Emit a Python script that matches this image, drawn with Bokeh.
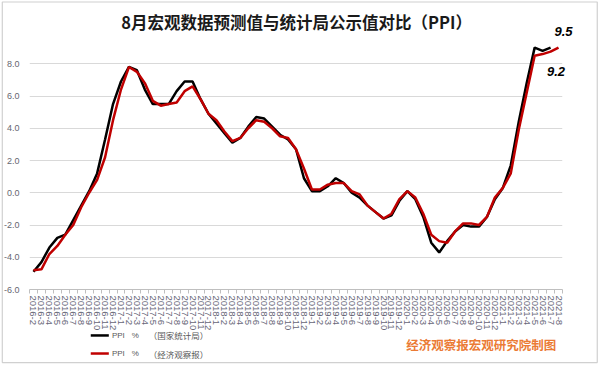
from bokeh.plotting import figure
from bokeh.models import FixedTicker, NumeralTickFormatter
from bokeh.core.properties import value
from bokeh.embed import file_html
from bokeh.resources import INLINE

# ---- data ----
months = [
    "2016-2", "2016-3", "2016-4", "2016-5", "2016-6", "2016-7", "2016-8", "2016-9", "2016-10", "2016-11", "2016-12",
    "2017-1", "2017-2", "2017-3", "2017-4", "2017-5", "2017-6", "2017-7", "2017-8", "2017-9", "2017-10", "2017-11", "2017-12",
    "2018-1", "2018-2", "2018-3", "2018-4", "2018-5", "2018-6", "2018-7", "2018-8", "2018-9", "2018-10", "2018-11", "2018-12",
    "2019-1", "2019-2", "2019-3", "2019-4", "2019-5", "2019-6", "2019-7", "2019-8", "2019-9", "2019-10", "2019-11", "2019-12",
    "2020-1", "2020-2", "2020-3", "2020-4", "2020-5", "2020-6", "2020-7", "2020-8", "2020-9", "2020-10", "2020-11", "2020-12",
    "2021-1", "2021-2", "2021-3", "2021-4", "2021-5", "2021-6", "2021-7", "2021-8",
]

ppi_nbs = [  # 国家统计局
    -4.9, -4.3, -3.4, -2.8, -2.6, -1.7, -0.8, 0.1, 1.2, 3.3, 5.5,
    6.9, 7.8, 7.6, 6.4, 5.5, 5.5, 5.5, 6.3, 6.9, 6.9, 5.8, 4.9,
    4.3, 3.7, 3.1, 3.4, 4.1, 4.7, 4.6, 4.1, 3.6, 3.3, 2.7, 0.9,
    0.1, 0.1, 0.4, 0.9, 0.6, 0.0, -0.3, -0.8, -1.2, -1.6, -1.4, -0.5,
    0.1, -0.4, -1.5, -3.1, -3.7, -3.0, -2.4, -2.0, -2.1, -2.1, -1.5, -0.4,
    0.3, 1.7, 4.4, 6.8, 9.0, 8.8, 9.0, float("nan"),
]

ppi_eeo = [  # 经济观察报
    -4.8, -4.75, -3.8, -3.3, -2.6, -2.0, -0.9, 0.0, 0.8, 2.2, 4.5,
    6.4, 7.8, 7.5, 6.8, 5.7, 5.4, 5.5, 5.6, 6.3, 6.6, 5.8, 4.9,
    4.5, 3.8, 3.2, 3.4, 4.0, 4.5, 4.4, 4.0, 3.5, 3.4, 2.7, 1.5,
    0.2, 0.2, 0.5, 0.6, 0.6, 0.1, -0.1, -0.8, -1.2, -1.6, -1.3, -0.4,
    0.1, -0.3, -1.3, -2.6, -3.0, -3.1, -2.4, -1.9, -1.9, -2.0, -1.5, -0.3,
    0.3, 1.2, 3.9, 6.2, 8.5, 8.6, 8.75, 9.0,
]

y_ticks = [-6, -4, -2, 0, 2, 4, 6, 8]
title_text = "8月宏观数据预测值与统计局公示值对比（PPI）"
legend_series = ["PPI", "PPI"]
legend_unit = ["%", "%"]
legend_source = ["（国家统计局）", "（经济观察报）"]
note_high = "9.5"
note_low = "9.2"
credit = "经济观察报宏观研究院制图"

idx = list(range(len(months)))

p = figure(width=600, height=365, x_range=(-0.5, len(months) - 0.5), y_range=(-6, 10),
           output_backend="svg", toolbar_location=None,
           min_border_left=29, min_border_right=38, min_border_top=31, min_border_bottom=76)
p.outline_line_color = None
p.background_fill_color = "white"
p.border_fill_color = "white"

# y axis
p.yaxis.ticker = FixedTicker(ticks=y_ticks)
p.yaxis.formatter = NumeralTickFormatter(format="0.0")
p.yaxis.axis_line_color = None
p.yaxis.major_tick_line_color = None
p.yaxis.minor_tick_line_color = None
p.yaxis.major_tick_out = 0
p.yaxis.minor_tick_out = 0
p.yaxis.major_label_standoff = 10
p.yaxis.major_label_text_font = "Liberation Sans"
p.yaxis.major_label_text_font_size = "9px"
p.yaxis.major_label_text_color = "#666670"
p.ygrid.ticker = FixedTicker(ticks=y_ticks)
p.ygrid.grid_line_color = "#d9d9d9"
p.xgrid.grid_line_color = None

# x axis
p.xaxis.ticker = FixedTicker(ticks=idx, minor_ticks=[i - 0.5 for i in range(len(months) + 1)])
p.xaxis.major_label_overrides = {i: m for i, m in enumerate(months)}
p.xaxis.major_label_orientation = "vertical"
p.xaxis.major_label_text_font = "Liberation Sans"
p.xaxis.major_label_text_font_size = "9.5px"
p.xaxis.major_label_text_color = "#666677"
p.xaxis.major_label_standoff = 2
p.xaxis.axis_line_color = "#bfbfbf"
p.xaxis.major_tick_line_color = None
p.xaxis.major_tick_out = 0
p.xaxis.minor_tick_line_color = "#bfbfbf"
p.xaxis.minor_tick_out = 4
p.xaxis.minor_tick_in = 0

p.line(idx, ppi_nbs, line_color="black", line_width=2.5)
p.line(idx, ppi_eeo, line_color="#c00000", line_width=2.5)

# thin chart-area border around the whole picture
p.quad(left=[-3.92], right=[70.87], top=[11.83], bottom=[-10.53], fill_color=None,
       line_color="#d0d0d0", line_width=1.2, level="overlay")

# texts drawn as overlay-level glyphs so they may sit outside the plot frame
p.text(x=[33.08], y=[10.62], text=[title_text], text_align="center", text_baseline="middle",
       text_font=value("Noto Sans CJK SC"), text_font_size="16.5px", text_font_style="bold",
       text_color="#1a1a1a", level="overlay")
p.text(x=[66.62, 65.68], y=[9.97, 7.52], text=[note_high, note_low], text_align="center",
       text_baseline="middle", text_font=value("Liberation Sans"), text_font_size="13px",
       text_font_style="bold italic", text_color="black", level="overlay")
p.text(x=[56.3], y=[-9.41], text=[credit], text_align="center", text_baseline="middle",
       text_font=value("Noto Sans CJK SC"), text_font_size="12.5px", text_font_style="bold",
       text_color="#EB7B35", level="overlay")

# legend (manual, below the axis)
leg_y = [-8.85, -9.97]
p.line([7.20, 9.47], [leg_y[0], leg_y[0]], line_color="black", line_width=2.5, level="overlay")
p.line([7.20, 9.47], [leg_y[1], leg_y[1]], line_color="#c00000", line_width=2.5, level="overlay")
p.text(x=[9.86, 9.86], y=leg_y, text=legend_series, text_align="left", text_baseline="middle",
       text_font=value("Liberation Sans"), text_font_size="8px", text_color="#595959", level="overlay")
p.text(x=[12.36, 12.36], y=leg_y, text=legend_unit, text_align="left", text_baseline="middle",
       text_font=value("Liberation Sans"), text_font_size="8px", text_color="#595959", level="overlay")
p.text(x=[14.49, 14.49], y=leg_y, text=legend_source, text_align="left", text_baseline="middle",
       text_font=value("Noto Sans CJK SC"), text_font_size="8.5px", text_color="#595959", level="overlay")

open("out.html", "w").write(file_html(p, INLINE))
